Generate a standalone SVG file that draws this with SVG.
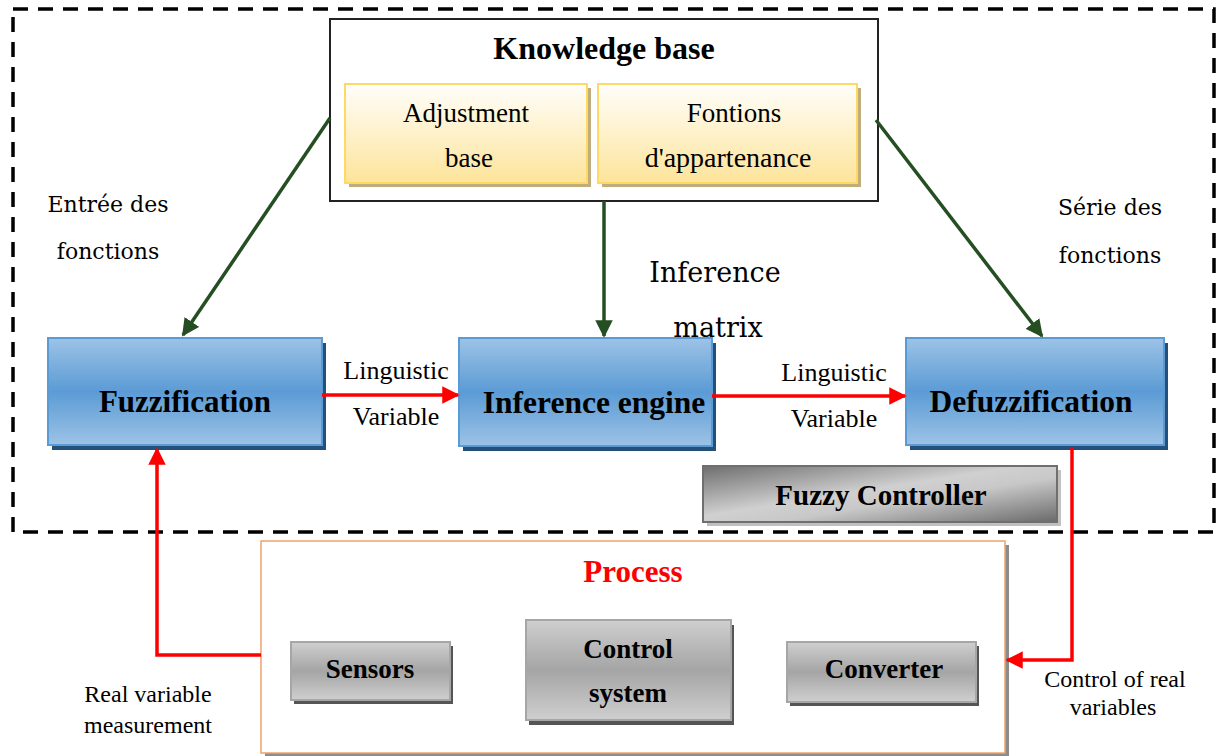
<svg xmlns="http://www.w3.org/2000/svg" width="1218" height="756" viewBox="0 0 1218 756" font-family="Liberation Serif, DejaVu Serif, serif">
<style>
text{font-family:'Liberation Serif','DejaVu Serif',serif;fill:#000;text-anchor:middle}
.c{font-family:'DejaVu Serif','Liberation Serif',serif}
.b{font-weight:bold}
.blue{fill:url(#gBlue);stroke:#5b9bd5;stroke-width:2}
.bsh{fill:#24507c}
.gray{fill:url(#gGray);stroke:#a6a6a6;stroke-width:2}
.gsh{fill:#555}
.yel{fill:url(#gYel);stroke:#ffd966;stroke-width:2}
.ysh{fill:#c0ad7e}
.green{stroke:#254f22;stroke-width:3.5;fill:none;marker-end:url(#mG)}
.red{stroke:#ff0000;stroke-width:3.5;fill:none}
.redA{marker-end:url(#mR)}
</style>
<defs>
<linearGradient id="gBlue" x1="0" y1="0" x2="0" y2="1">
<stop offset="0" stop-color="#9dc3e6"/><stop offset="0.5" stop-color="#5b9bd5"/><stop offset="1" stop-color="#9dc3e6"/>
</linearGradient>
<linearGradient id="gGray" x1="0" y1="0" x2="0" y2="1">
<stop offset="0" stop-color="#cfcfcf"/><stop offset="0.5" stop-color="#a5a5a5"/><stop offset="1" stop-color="#cfcfcf"/>
</linearGradient>
<linearGradient id="gFC" x1="0" y1="0" x2="1" y2="1">
<stop offset="0" stop-color="#6e6e6e"/><stop offset="0.45" stop-color="#d0d0d0"/><stop offset="0.6" stop-color="#c8c8c8"/><stop offset="1" stop-color="#6a6a6a"/>
</linearGradient>
<linearGradient id="gYel" x1="0" y1="0" x2="0" y2="1">
<stop offset="0" stop-color="#fffefb"/><stop offset="1" stop-color="#fde49a"/>
</linearGradient>
<marker id="mG" markerWidth="5" markerHeight="5" refX="4.5" refY="2.5" orient="auto" markerUnits="strokeWidth">
<path d="M0,0 L5,2.5 L0,5 z" fill="#254f22"/>
</marker>
<marker id="mR" markerWidth="5" markerHeight="5" refX="4.5" refY="2.5" orient="auto" markerUnits="strokeWidth">
<path d="M0,0 L5,2.5 L0,5 z" fill="#ff0000"/>
</marker>
</defs>
<rect width="1218" height="756" fill="#fff"/>

<g id="fuzzy-controller-boundary">
<rect x="13" y="9" width="1201" height="523" fill="none" stroke="#000" stroke-width="3.5" stroke-dasharray="15,10"/>
</g>

<g id="knowledge-base">
<rect x="330" y="19" width="548" height="182" fill="#fff" stroke="#222" stroke-width="2"/>
<text x="604" y="59" class="b" font-size="32">Knowledge base</text>
</g>
<g id="adjustment-base">
<rect x="349" y="88" width="242" height="99" class="ysh"/>
<rect x="345" y="84" width="242" height="99" class="yel"/>
<text x="466" y="122" font-size="27">Adjustment</text>
<text x="469" y="167" font-size="27">base</text>
</g>
<g id="fontions">
<rect x="602" y="88" width="259" height="99" class="ysh"/>
<rect x="598" y="84" width="259" height="99" class="yel"/>
<text x="734" y="122" font-size="27">Fontions</text>
<text x="728" y="167" font-size="28">d'appartenance</text>
</g>

<g id="fuzzification">
<rect x="52" y="343" width="274" height="107" class="bsh"/>
<rect x="48" y="338" width="274" height="107" class="blue"/>
<text x="185" y="412" class="b" font-size="31">Fuzzification</text>
</g>
<g id="inference-engine">
<rect x="463" y="343" width="253" height="108" class="bsh"/>
<rect x="459" y="338" width="253" height="108" class="blue"/>
<text x="594" y="413" class="b" font-size="31.5">Inference engine</text>
</g>
<g id="defuzzification">
<rect x="910" y="343" width="258" height="107" class="bsh"/>
<rect x="906" y="338" width="258" height="107" class="blue"/>
<text x="1031" y="412" class="b" font-size="31.5">Defuzzification</text>
</g>
<g id="fuzzy-controller">
<rect x="707" y="470" width="354" height="56" fill="#c0c0c0"/>
<rect x="703" y="466" width="354" height="56" fill="url(#gFC)" stroke="#6f6f6f" stroke-width="2"/>
<text x="881" y="505" class="b" font-size="29">Fuzzy Controller</text>
</g>

<g id="process">
<rect x="265" y="545" width="744" height="212" fill="#8c8c8c"/>
<rect x="261" y="541" width="744" height="212" fill="#fff" stroke="#f0a36a" stroke-width="1.5"/>
<text x="633" y="582" class="b" font-size="31" style="fill:#ff0000">Process</text>
</g>
<g id="sensors">
<rect x="294" y="646" width="159" height="58" class="gsh"/>
<rect x="291" y="642" width="159" height="58" class="gray"/>
<text x="370" y="678" class="b" font-size="27">Sensors</text>
</g>
<g id="control-system">
<rect x="529" y="625" width="205" height="100" class="gsh"/>
<rect x="526" y="620" width="205" height="100" class="gray"/>
<text x="628" y="658" class="b" font-size="27">Control</text>
<text x="628" y="702" class="b" font-size="27">system</text>
</g>
<g id="converter">
<rect x="790" y="646" width="189" height="60" class="gsh"/>
<rect x="787" y="642" width="189" height="60" class="gray"/>
<text x="884" y="678" class="b" font-size="27">Converter</text>
</g>

<g id="connectors">
<line x1="330" y1="118" x2="183" y2="335" class="green"/>
<line x1="604" y1="201" x2="604" y2="336" class="green"/>
<line x1="876" y1="120" x2="1042" y2="336" class="green"/>
<line x1="322" y1="395" x2="458" y2="395" class="red redA"/>
<line x1="712" y1="396" x2="905" y2="396" class="red redA"/>
<polyline points="1072,448 1072,660 1007,660" class="red redA"/>
<polyline points="261,655 157,655 157,449" class="red redA"/>
</g>

<g id="labels">
<text x="108" y="212" font-size="22" class="c">Entrée des</text>
<text x="108" y="259" font-size="22" class="c">fonctions</text>
<text x="1110" y="215" font-size="22" class="c">Série des</text>
<text x="1110" y="263" font-size="22" class="c">fonctions</text>
<text x="715" y="282" font-size="27" class="c">Inference</text>
<text x="718" y="337" font-size="27" class="c">matrix</text>
<text x="396" y="379" font-size="26">Linguistic</text>
<text x="396" y="425" font-size="26">Variable</text>
<text x="834" y="381" font-size="26">Linguistic</text>
<text x="834" y="427" font-size="26">Variable</text>
<text x="148" y="702" font-size="24">Real variable</text>
<text x="148" y="733" font-size="24">measurement</text>
<text x="1115" y="687" font-size="24">Control of real</text>
<text x="1113" y="715" font-size="24">variables</text>
</g>
</svg>
